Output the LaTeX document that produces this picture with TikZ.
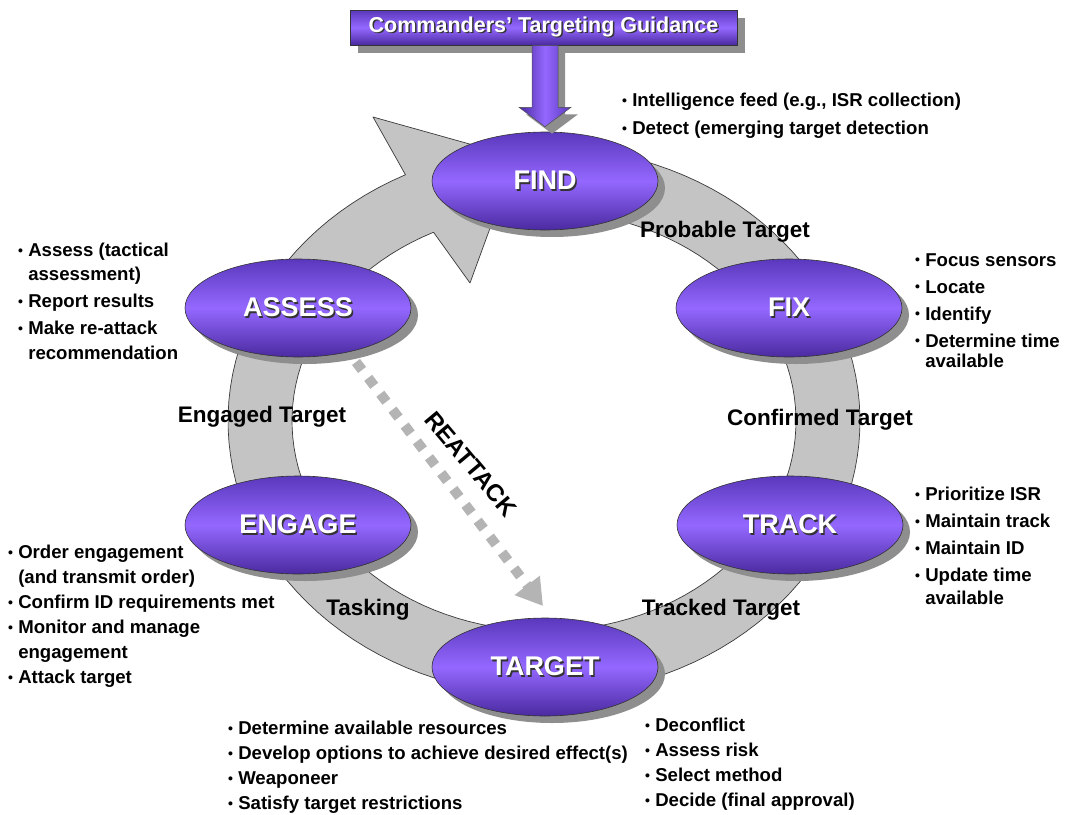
\documentclass[tikz,border=0pt]{standalone}
\usepackage{fontspec}
\setmainfont{Liberation Sans}
\usetikzlibrary{calc,arrows.meta,shapes.geometric,shadows}
\definecolor{ringfill}{HTML}{C4C4C4}
\definecolor{ringline}{HTML}{3A3A3A}
\definecolor{ptop}{HTML}{5A38BC}
\definecolor{pmid}{HTML}{9468FF}
\definecolor{pbot}{HTML}{4A2AA0}
\definecolor{shad}{HTML}{8E8E8E}
\definecolor{dashgray}{HTML}{B4B4B4}
\newcommand{\embtext}[1]{\rlap{\hspace{1.5pt}\raisebox{-1.5pt}{\color{black!80}#1}}{\color{white}#1}}
\newcommand{\bu}{\raisebox{1.2pt}{\fontsize{14}{14}\selectfont•}\ }
\newcommand{\ind}{\hphantom{\bu}}
\begin{document}
\begin{tikzpicture}[x=1pt,y=-1pt,
  ring/.style={fill=ringfill, draw=ringline, line width=0.7pt, line join=round},
  phase/.style={ellipse, draw=black!80, line width=0.6pt, minimum width=226pt, minimum height=98pt,
    inner sep=0pt, top color=ptop, bottom color=pbot, middle color=pmid,
    drop shadow={shadow xshift=7pt, shadow yshift=-7pt, fill=shad, opacity=1},
    font=\fontsize{27}{30}\selectfont\bfseries},
  guidebox/.style={rectangle, draw=black!80, line width=0.6pt, minimum width=387pt, minimum height=35pt,
    inner sep=0pt, top color=ptop, bottom color=pbot, middle color=pmid,
    drop shadow={shadow xshift=8pt, shadow yshift=-8pt, fill=shad, opacity=1},
    font=\fontsize{21.5}{24}\selectfont\bfseries},
  blockarrow/.style={draw=black!70, line width=0.5pt, left color=pbot, right color=ptop, middle color=pmid,
    drop shadow={shadow xshift=7pt, shadow yshift=-7pt, fill=shad, opacity=1}},
  lab/.style={inner sep=0pt, font=\fontsize{22.5}{24}\selectfont\bfseries, text=black},
  bul/.style={inner sep=0pt, anchor=north west, align=left, text=black},
  reatt/.style={draw=dashgray, line width=10pt, dash pattern=on 10pt off 10pt,
    -{Triangle[width=30pt,length=26pt]}}
]
\useasboundingbox[fill=white] (0,0) rectangle (1068,814);

% ring with arrowhead
\path[ring] plot[domain=455:116, samples=120] ({544+316*cos(\x)},{421-274*sin(\x)})
  -- (373,117) -- (516,157) -- (470,283)
  -- plot[domain=116:455, samples=120] ({544+252*cos(\x)},{421-210*sin(\x)}) -- cycle;

% dashed reattack arrow
\coordinate (rs) at (356,362);
\coordinate (re) at (543,606);
\draw[reatt] (rs) -- (re);
\node[lab, rotate=-50, font=\fontsize{24}{26}\selectfont\bfseries] (reat) at (471,464) {REATTACK};

% phases
\node[phase] (find) at (545,181) {\embtext{FIND}};
\node[phase] (fix) at (789,308) {\embtext{FIX}};
\node[phase] (track) at (790,525) {\embtext{TRACK}};
\node[phase] (target) at (545,667) {\embtext{TARGET}};
\node[phase] (engage) at (298,525) {\embtext{ENGAGE}};
\node[phase] (assess) at (298,308) {\embtext{ASSESS}};

% guidance
\node[guidebox] (guide) at (543.5,27.5) {\embtext{Commanders’ Targeting Guidance}};
\path (guide.south) coordinate (gs) (find.north) coordinate (fn);
\path[blockarrow] ($(gs -| fn)+(-13,0)$) -- ($(gs -| fn)+(-13,62)$) -- ($(gs -| fn)+(-26,62)$)
  -- ($(fn)+(0,-5)$) -- ($(gs -| fn)+(26,62)$) -- ($(gs -| fn)+(13,62)$) -- ($(gs -| fn)+(13,0)$) -- cycle;

% ring labels
\node[lab] (lprob) at (725,232) {Probable Target};
\node[lab] (lconf) at (820,420) {Confirmed Target};
\node[lab] (ltrack) at (721,610) {Tracked Target};
\node[lab] (ltask) at (368,610) {Tasking};
\node[lab] (leng) at (262,417) {Engaged Target};

% bullet lists
\node[bul, font=\fontsize{18.6}{28}\selectfont\bfseries] (bfind) at (622,93)
  {\bu Intelligence feed (e.g., ISR collection)\\ \bu Detect (emerging target detection};
\node[bul, font=\fontsize{18.6}{27}\selectfont\bfseries] (bfix) at (915,253)
  {\bu Focus sensors\\ \bu Locate\\ \bu Identify\\ \bu Determine time\\[-7pt] \ind available};
\node[bul, font=\fontsize{18.6}{27}\selectfont\bfseries] (bassess) at (18,243)
  {\bu Assess (tactical\\[-3pt] \ind assessment)\\ \bu Report results\\ \bu Make re-attack\\[-2pt] \ind recommendation};
\node[bul, font=\fontsize{18.6}{27}\selectfont\bfseries] (btrack) at (915,487)
  {\bu Prioritize ISR\\ \bu Maintain track\\ \bu Maintain ID\\ \bu Update time\\[-4pt] \ind available};
\node[bul, font=\fontsize{18.6}{25}\selectfont\bfseries] (bengage) at (8,545)
  {\bu Order engagement\\ \ind(and transmit order)\\ \bu Confirm ID requirements met\\ \bu Monitor and manage\\ \ind engagement\\ \bu Attack target};
\node[bul, font=\fontsize{18.6}{25}\selectfont\bfseries] (btargl) at (228,721)
  {\bu Determine available resources\\ \bu Develop options to achieve desired effect(s)\\ \bu Weaponeer\\ \bu Satisfy target restrictions};
\node[bul, font=\fontsize{18.6}{25}\selectfont\bfseries] (btargr) at (645,718)
  {\bu Deconflict\\ \bu Assess risk\\ \bu Select method\\ \bu Decide (final approval)};
\end{tikzpicture}
\end{document}
